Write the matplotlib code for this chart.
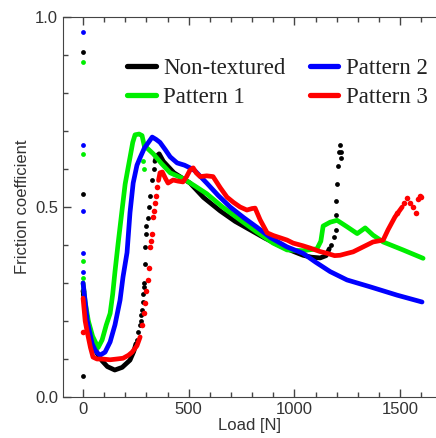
import matplotlib
matplotlib.use("Agg")
import matplotlib.pyplot as plt

# ---------------------------
# Data (load in N, friction coefficient)
# ---------------------------
# Non-textured
black_line_x = [0, 12, 24, 45, 66, 90, 115, 150, 185, 222, 240, 250]
black_line_y = [0.28, 0.23, 0.195, 0.15, 0.115, 0.095, 0.08, 0.071, 0.078, 0.097, 0.12, 0.14]
black_line2_x = [340, 350, 360, 380, 430, 506, 570, 648, 720, 790, 860, 932, 1000, 1041, 1080, 1122, 1150, 1165]
black_line2_y = [0.62, 0.635, 0.64, 0.62, 0.59, 0.563, 0.525, 0.49, 0.462, 0.44, 0.418, 0.398, 0.382,
                 0.373, 0.368, 0.366, 0.372, 0.39]
black_dots_x = [0, 0, 0, 0, 255, 262, 268, 272, 276, 279, 282, 284, 286, 288, 291, 293, 297, 300, 305,
                310, 318, 327, 335,
                1175, 1185, 1195, 1197, 1197, 1200, 1206, 1210, 1220, 1222, 1215]
black_dots_y = [0.907, 0.534, 0.055, 0.27, 0.15, 0.17, 0.19, 0.2, 0.215, 0.23, 0.25, 0.27, 0.29, 0.30,
                0.35, 0.395, 0.43, 0.45, 0.47, 0.5, 0.53, 0.57, 0.6,
                0.40, 0.42, 0.44, 0.48, 0.515, 0.56, 0.608, 0.645, 0.629, 0.645, 0.663]

# Pattern 1
green_line_x = [0, 10, 25, 45, 71, 90, 110, 128, 140, 151, 166, 184, 199, 212, 222, 235, 246, 265, 279,
                290, 303, 332, 370, 412, 473, 530, 585, 660, 743, 820, 899, 965, 1041, 1107, 1125,
                1136, 1169, 1202, 1249, 1297, 1335, 1372, 1420, 1514, 1609]
green_line_y = [0.30, 0.25, 0.2, 0.16, 0.13, 0.15, 0.19, 0.22, 0.27, 0.33, 0.405, 0.49, 0.56, 0.60, 0.63,
                0.67, 0.69, 0.692, 0.688, 0.66, 0.655, 0.64, 0.615, 0.59, 0.575, 0.555, 0.535, 0.50,
                0.466, 0.435, 0.405, 0.387, 0.385, 0.39, 0.41, 0.45, 0.46, 0.465, 0.448, 0.43, 0.445,
                0.426, 0.408, 0.387, 0.365]
green_dots_x = [0, 0, 0, 0, 284, 286]
green_dots_y = [0.882, 0.64, 0.358, 0.313, 0.62, 0.60]

# Pattern 2
blue_line_x = [0, 8, 20, 43, 60, 80, 104, 128, 151, 175, 189, 208, 222, 237, 255, 270, 290, 317, 327,
               345, 364, 390, 412, 445, 480, 506, 530, 585, 640, 696, 760, 822, 885, 965, 1041, 1100,
               1169, 1249, 1358, 1486, 1604]
blue_line_y = [0.30, 0.26, 0.2, 0.14, 0.12, 0.11, 0.118, 0.145, 0.19, 0.255, 0.316, 0.38, 0.485, 0.563,
               0.61, 0.63, 0.655, 0.676, 0.684, 0.678, 0.67, 0.65, 0.632, 0.616, 0.61, 0.603, 0.595,
               0.563, 0.53, 0.5, 0.472, 0.447, 0.42, 0.395, 0.378, 0.355, 0.33, 0.308, 0.29, 0.268,
               0.25]
blue_dots_x = [0, 0, 0, 0, 0]
blue_dots_y = [0.96, 0.663, 0.49, 0.379, 0.33]

# Pattern 3
red_line_x = [0, 10, 20, 35, 47, 66, 90, 128, 160, 189, 215, 232, 255, 270]
red_line_y = [0.26, 0.2, 0.17, 0.13, 0.105, 0.1, 0.1, 0.098, 0.1, 0.102, 0.11, 0.118, 0.135, 0.158]
red_line2_x = [357, 364, 375, 390, 402, 426, 450, 473, 490, 506, 521, 535, 554, 585, 615, 650, 681,
               712, 743, 775, 800, 814, 838, 871, 900, 965, 994, 1040, 1074, 1120, 1155, 1190, 1216,
               1250, 1278, 1325, 1372, 1420, 1443, 1476, 1510]
red_line2_y = [0.57, 0.59, 0.592, 0.575, 0.563, 0.571, 0.568, 0.566, 0.58, 0.597, 0.603, 0.59, 0.58,
               0.582, 0.58, 0.55, 0.526, 0.512, 0.5, 0.492, 0.496, 0.497, 0.466, 0.432, 0.425, 0.413,
               0.405, 0.398, 0.392, 0.383, 0.378, 0.372, 0.373, 0.378, 0.382, 0.395, 0.408, 0.413,
               0.44, 0.474, 0.5]
red_dots_x = [0, 0, 280, 287, 293, 300, 308, 312, 317, 321, 325, 331, 336, 340, 345, 350,
              1486, 1520, 1533, 1545, 1562, 1575, 1585, 1595, 1600]
red_dots_y = [0.28, 0.17, 0.19, 0.22, 0.247, 0.28, 0.308, 0.34, 0.395, 0.41, 0.43, 0.474, 0.49, 0.51,
              0.53, 0.553,
              0.484, 0.51, 0.524, 0.51, 0.5, 0.484, 0.52, 0.53, 0.525]

labels = ["Non-textured", "Pattern 1", "Pattern 2", "Pattern 3"]
colors = ["#000000", "#00ee00", "#0000ff", "#ff0000"]

# ---------------------------
# Figure
# ---------------------------
fig = plt.figure(figsize=(4.36, 4.38), dpi=100)
ax = fig.add_axes([0.1445, 0.0936, 0.8555, 0.8676])

lw = 3.4
ds = 12

k, g, b, r = colors
ax.plot(black_line_x, black_line_y, color=k, lw=lw, solid_capstyle="round", label=labels[0])
ax.plot(black_line2_x, black_line2_y, color=k, lw=lw, solid_capstyle="round")
ax.scatter(black_dots_x[:23], black_dots_y[:23], s=ds, color=k, lw=0)

ax.plot(green_line_x, green_line_y, color=g, lw=lw, solid_capstyle="round", label=labels[1])
ax.scatter(green_dots_x, green_dots_y, s=ds, color=g, lw=0)

ax.plot(blue_line_x, blue_line_y, color=b, lw=lw, solid_capstyle="round", label=labels[2])
ax.scatter(blue_dots_x, blue_dots_y, s=ds, color=b, lw=0)

ax.plot(red_line_x, red_line_y, color=r, lw=lw, solid_capstyle="round", label=labels[3])
ax.plot(red_line2_x, red_line2_y, color=r, lw=lw, solid_capstyle="round")
ax.scatter(red_dots_x, red_dots_y, s=ds + 4, color=r, lw=0)

# black spike at ~1200 N sits on top of the others
ax.scatter(black_dots_x[23:], black_dots_y[23:], s=ds, color=k, lw=0, zorder=5)

ax.set_xlim(-95, 1670)
ax.set_ylim(0, 1.0)
ax.set_xticks([0, 500, 1000, 1500])
ax.set_xticks(range(-0, 1700, 100), minor=True)
ax.set_yticks([0.0, 0.5, 1.0])
ax.set_yticklabels(["0.0", "0.5", "1.0"])
ax.set_yticks([i / 10 for i in range(11)], minor=True)

ax.tick_params(which="both", direction="in", top=True, right=False, colors="#444444",
               labelcolor="#333333", labelsize=12, width=1)
ax.tick_params(which="major", length=6)
ax.tick_params(which="minor", length=3.5)
ax.spines["right"].set_visible(False)
for s in ["left", "bottom", "top"]:
    ax.spines[s].set_color("#444444")

ax.set_xlabel("Load [N]", fontsize=12, family="Liberation Sans", color="#333333", labelpad=1)
ax.set_ylabel("Friction coefficient", fontsize=12, family="Liberation Sans", color="#333333",
              labelpad=4)
for t in ax.get_xticklabels() + ax.get_yticklabels():
    t.set_family("Liberation Sans")

leg = ax.legend(
    ncol=2,
    loc="upper left",
    bbox_to_anchor=(0.172, 0.893),
    frameon=False,
    borderaxespad=0,
    borderpad=0,
    handlelength=1.25,
    handletextpad=0.33,
    columnspacing=1.05,
    labelspacing=0.38,
    prop={"family": "Liberation Serif", "size": 16.5},
)
for line in leg.get_lines():
    line.set_linewidth(3.8)
for t in leg.get_texts():
    t.set_color("#222222")

fig.savefig("out.png", dpi=100)
